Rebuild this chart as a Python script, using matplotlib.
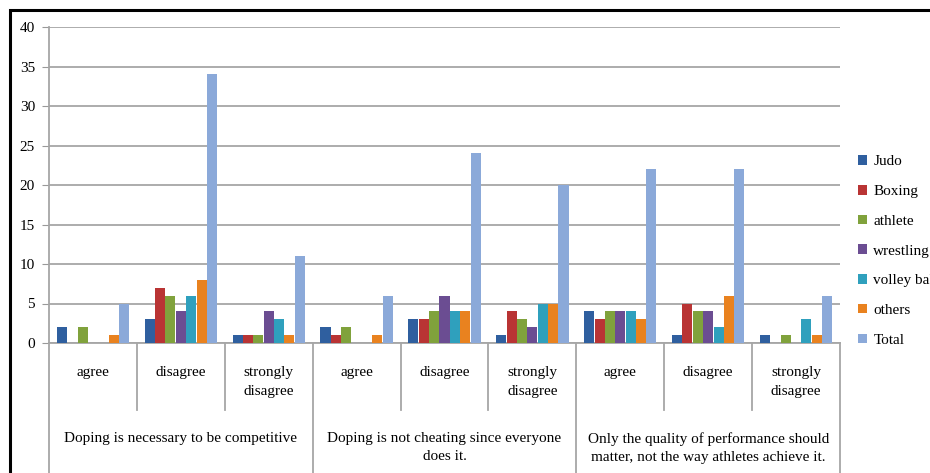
import matplotlib
matplotlib.use("Agg")
import matplotlib.pyplot as plt
import numpy as np
from matplotlib.patches import Rectangle
from matplotlib.lines import Line2D

plt.rcParams['font.family'] = ['Liberation Serif', 'DejaVu Serif']

series = ["Judo", "Boxing", "athlete", "wrestling", "volley ball", "others", "Total"]
colors = ["#2f5f9f", "#b93434", "#80a23c", "#6b4d92", "#2fa0bd", "#e9821f", "#8ba9d9"]
subcats = ["agree", "disagree", "strongly\ndisagree"] * 3
groups = ["Doping is necessary to be competitive",
          "Doping is not cheating since everyone\ndoes it.",
          "Only the quality of performance should\nmatter, not the way athletes achieve it."]

judo      = [2, 3, 1, 2, 3, 1, 4, 1, 1]
boxing    = [0, 7, 1, 1, 3, 4, 3, 5, 0]
athlete   = [2, 6, 1, 2, 4, 3, 4, 4, 1]
wrestling = [0, 4, 4, 0, 6, 2, 4, 4, 0]
volley    = [0, 6, 3, 0, 4, 5, 4, 2, 3]
others    = [1, 8, 1, 1, 4, 5, 3, 6, 1]
total     = [5, 34, 11, 6, 24, 20, 22, 22, 6]
values = [judo, boxing, athlete, wrestling, volley, others, total]

fig = plt.figure(figsize=(9.3, 4.73), dpi=100)
W, H = 930, 473
ax = fig.add_axes([49 / W, (H - 343) / H, (840 - 49) / W, (343 - 27) / H])

x = np.arange(len(subcats))
step = 0.118
bw = 0.114
for i, (name, vals, c) in enumerate(zip(series, values, colors)):
    ax.bar(x + (i - 3) * step, vals, width=bw, color=c, label=name, zorder=3,
           edgecolor=c, linewidth=0)

ax.set_xlim(-0.5, len(subcats) - 0.5)
ax.set_ylim(0, 40)
ax.set_yticks(range(0, 41, 5))
ax.tick_params(axis='y', length=5, color='#999999', labelsize=11, pad=5)
ax.tick_params(axis='x', length=0, labelbottom=False)
ax.yaxis.grid(True, color='#a6a6a6', linewidth=1.3, zorder=0)
for s in ['top', 'right']:
    ax.spines[s].set_visible(False)
ax.spines['left'].set_color('#a6a6a6')
ax.spines['left'].set_linewidth(1.3)
ax.spines['bottom'].set_color('#a6a6a6')
ax.spines['bottom'].set_linewidth(1.3)

trans = ax.get_xaxis_transform()
sub_bottom = (343 - 410) / 316
fig_bottom = (343 - 480) / 316
for b in range(1, len(subcats)):
    yb = fig_bottom if b % 3 == 0 else sub_bottom
    ax.add_line(Line2D([b - 0.5, b - 0.5], [0, yb], transform=trans,
                       color='#a6a6a6', lw=1.3, clip_on=False))
for b in [-0.5, len(subcats) - 0.5]:
    ax.add_line(Line2D([b, b], [0, fig_bottom], transform=trans,
                       color='#a6a6a6', lw=1.3, clip_on=False))

for xi, lab in zip(x, subcats):
    ax.text(xi, (343 - 366) / 316, lab, transform=trans, ha='center', va='top',
            fontsize=11, linespacing=1.6)
for gi, g in enumerate(groups):
    ax.text(gi * 3 + 1, (343 - 432) / 316, g, transform=trans, ha='center', va='top',
            fontsize=11, linespacing=1.55)

leg = ax.legend(loc='upper left', bbox_to_anchor=(852 / W, (H - 149) / H),
                bbox_transform=fig.transFigure, frameon=False, fontsize=11,
                handlelength=0.6, handleheight=0.6, handletextpad=0.4,
                labelspacing=1.08, borderaxespad=0)

fig.patches.append(Rectangle((10 / W, -0.1), 1.2, (H - 10) / H + 0.1,
                             transform=fig.transFigure, fill=False,
                             edgecolor='black', linewidth=2.2))

fig.savefig("out.png", dpi=100)
